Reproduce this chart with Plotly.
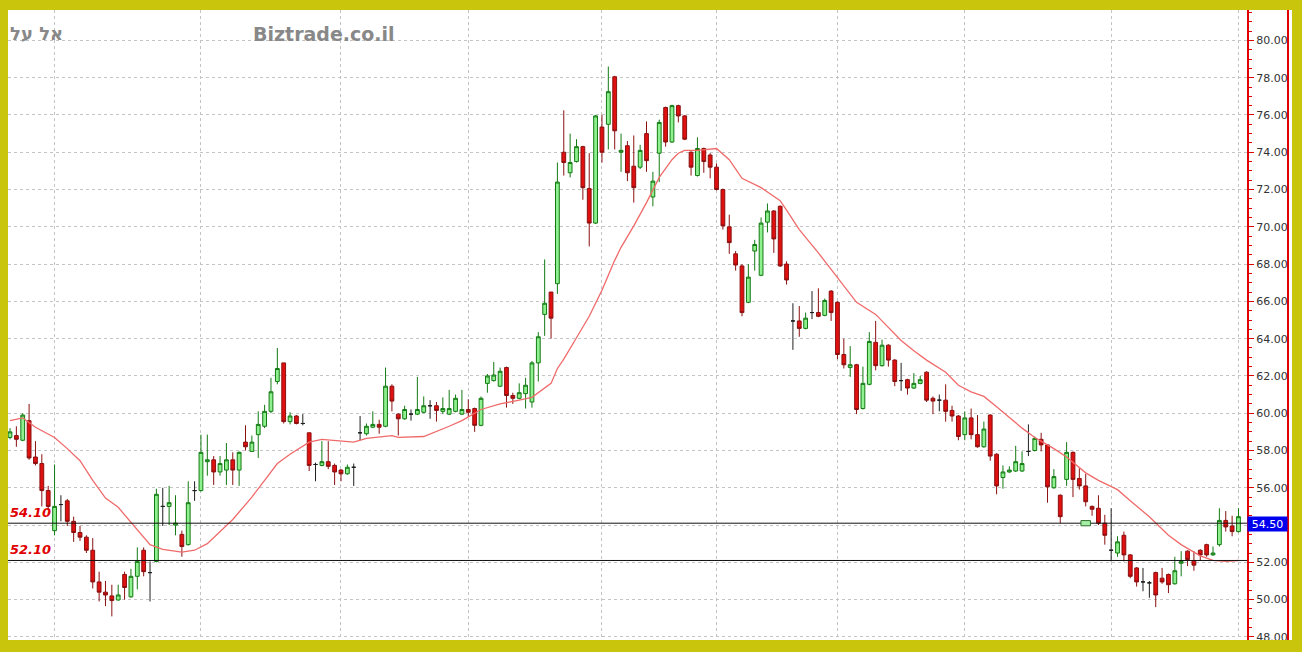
import plotly.graph_objects as go

# ---------------- data ----------------
open_ = [58.7, 58.8, 58.55, 59.6, 57.65, 57.3, 55.85, 53.7, 55.1, 55.3,
         54.2, 53.6, 53.35, 52.65, 50.95, 50.4, 50.2, 49.98, 51.35, 50.15,
         51.25, 52.65, 51.45, 52.05, 55.0, 55.0, 54.0, 53.5, 52.95, 55.85,
         55.85, 57.4, 57.5, 56.85, 56.95, 57.5, 56.95, 58.45, 57.95, 58.85,
         59.3, 60.1, 61.7, 62.7, 59.55, 59.85, 59.45, 58.95, 57.25, 57.2,
         57.4, 57.2, 56.95, 56.75, 57.1, 58.95, 58.9, 59.25, 59.4, 59.3,
         61.45, 59.95, 59.7, 59.95, 59.95, 60.05, 60.4, 60.4, 60.1, 59.95,
         60.1, 59.95, 60.2, 60.25, 59.35, 61.6, 61.75, 61.45, 62.45, 60.95,
         60.8, 61.05, 60.6, 62.7, 65.3, 66.5, 66.95, 74.0, 72.9, 73.5,
         74.3, 72.05, 70.2, 75.35, 75.5, 78.05, 74.0, 74.35, 73.25, 73.2,
         75.0, 71.6, 73.95, 76.4, 74.55, 76.5, 75.95, 74.0, 72.75, 74.2,
         73.85, 73.2, 72.0, 70.0, 68.55, 67.9, 65.95, 68.7, 67.4, 70.25,
         70.85, 71.1, 68.0, 64.95, 64.95, 64.55, 65.4, 65.4, 65.25, 66.55,
         65.95, 63.15, 62.45, 62.6, 60.25, 61.55, 63.8, 62.55, 63.65, 62.85,
         61.75, 61.8, 61.35, 61.6, 62.2, 60.8, 60.7, 60.7, 60.15, 59.85,
         58.85, 59.75, 58.85, 58.2, 59.9, 57.8, 56.55, 56.85, 56.9, 56.9,
         57.95, 58.0, 58.6, 58.3, 56.0, 55.6, 56.45, 57.9, 56.5, 56.1,
         55.0, 54.9, 54.1, 52.65, 52.5, 53.45, 52.4, 51.7, 50.95, 50.9,
         51.45, 51.15, 51.35, 50.85, 51.95, 52.6, 52.1, 52.65, 52.95, 52.4,
         52.95, 54.25, 53.95, 53.65]
high = [59.2, 59.3, 60.0, 60.5, 58.5, 57.8, 56.1, 57.25, 55.6, 55.4,
        54.45, 53.95, 53.45, 53.3, 51.5, 51.0, 50.8, 50.8, 51.5, 51.65,
        52.8, 52.8, 52.05, 55.95, 56.0, 56.1, 55.6, 53.7, 56.35, 56.35,
        58.85, 58.85, 57.7, 57.7, 58.4, 57.9, 57.95, 59.35, 58.8, 60.1,
        60.45, 61.9, 63.5, 62.7, 60.05, 59.9, 59.95, 58.95, 57.35, 58.5,
        58.5, 57.3, 57.0, 57.25, 57.3, 59.85, 59.45, 60.1, 59.65, 62.45,
        61.55, 60.0, 60.4, 60.2, 61.95, 60.9, 60.7, 60.6, 60.85, 61.25,
        61.0, 61.25, 60.75, 60.3, 60.9, 62.1, 62.75, 62.45, 62.5, 61.1,
        61.6, 61.9, 62.8, 64.35, 68.25, 66.5, 73.45, 76.25, 75.0, 74.7,
        74.35, 73.95, 76.0, 76.0, 78.6, 78.1, 75.0, 74.6, 74.9, 74.4,
        75.65, 72.95, 75.75, 76.45, 76.55, 76.55, 76.0, 74.05, 74.8, 74.25,
        73.95, 73.4, 72.05, 70.65, 68.7, 68.0, 68.0, 69.3, 70.5, 71.25,
        70.9, 71.15, 68.15, 65.9, 65.75, 65.4, 66.55, 66.7, 66.15, 66.6,
        66.0, 64.0, 63.6, 62.65, 62.5, 64.35, 64.95, 63.95, 63.7, 62.9,
        62.7, 61.85, 62.15, 62.0, 62.25, 60.9, 61.0, 61.55, 60.4, 59.9,
        60.1, 60.25, 59.9, 59.55, 59.95, 57.85, 57.2, 57.15, 58.25, 57.95,
        59.4, 58.75, 58.95, 58.35, 57.0, 55.65, 58.45, 57.95, 57.05, 56.75,
        55.05, 55.6, 54.55, 54.9, 53.4, 53.65, 52.45, 51.75, 51.7, 51.0,
        51.5, 51.7, 51.4, 52.3, 52.6, 52.65, 52.6, 52.7, 53.0, 52.85,
        54.9, 54.75, 54.5, 54.9]
low = [58.6, 58.2, 58.5, 57.5, 57.2, 55.0, 54.8, 53.45, 54.2, 53.95,
       53.1, 53.15, 52.5, 50.6, 49.9, 49.65, 49.1, 49.95, 50.0, 50.1,
       50.55, 51.25, 49.9, 52.0, 53.95, 54.0, 53.45, 52.3, 52.9, 55.3,
       55.8, 56.65, 56.15, 56.65, 56.15, 56.15, 56.1, 58.0, 57.95, 57.6,
       59.2, 60.0, 61.55, 59.45, 59.4, 59.4, 59.35, 56.9, 56.35, 57.15,
       57.0, 56.15, 56.35, 56.7, 56.1, 58.55, 58.8, 59.2, 58.9, 59.25,
       60.1, 58.8, 59.65, 59.6, 59.9, 60.0, 59.7, 59.55, 59.95, 59.9,
       60.05, 59.9, 59.8, 59.0, 59.3, 61.1, 61.7, 61.4, 60.3, 60.5,
       60.75, 60.25, 60.3, 61.7, 64.15, 64.0, 66.4, 72.75, 72.65, 73.45,
       71.45, 68.95, 70.15, 73.45, 74.15, 74.15, 72.95, 72.45, 71.3, 73.1,
       72.95, 71.1, 72.4, 74.3, 74.5, 75.6, 74.65, 72.75, 72.7, 72.9,
       72.6, 71.95, 69.85, 68.55, 67.65, 65.2, 65.9, 67.65, 67.35, 69.7,
       68.6, 67.85, 66.9, 63.4, 64.1, 64.5, 65.05, 65.15, 65.2, 64.95,
       62.9, 62.4, 61.95, 59.95, 60.2, 61.5, 62.3, 62.5, 62.5, 61.45,
       61.2, 61.0, 61.3, 61.55, 60.6, 59.95, 60.1, 59.55, 59.55, 58.55,
       58.55, 58.6, 58.15, 58.15, 57.45, 55.65, 55.95, 56.8, 56.85, 56.85,
       57.7, 57.95, 57.95, 55.2, 55.95, 54.1, 56.1, 55.5, 55.9, 55.0,
       54.5, 54.0, 52.95, 52.05, 52.3, 52.05, 51.15, 50.7, 50.45, 50.1,
       49.6, 50.85, 50.35, 50.8, 51.25, 51.8, 51.55, 52.1, 52.3, 52.35,
       52.85, 53.65, 53.4, 53.6]
close = [59.0, 58.6, 59.9, 57.6, 57.3, 55.85, 55.0, 55.0, 55.1, 54.2,
         53.6, 53.35, 52.65, 50.95, 50.4, 50.25, 49.95, 50.25, 50.65, 51.25,
         52.05, 51.5, 51.45, 55.65, 55.0, 55.2, 54.1, 52.85, 55.2, 55.85,
         57.9, 57.5, 56.85, 57.3, 57.5, 56.95, 57.9, 58.2, 58.45, 59.4,
         60.1, 61.15, 62.4, 59.55, 59.85, 59.45, 59.45, 57.2, 57.25, 57.4,
         57.15, 56.85, 56.75, 57.1, 57.1, 58.95, 59.3, 59.4, 59.25, 61.45,
         60.65, 59.7, 60.2, 59.95, 60.2, 60.4, 60.4, 60.15, 60.25, 60.25,
         60.8, 60.2, 60.05, 59.35, 60.8, 62.0, 62.05, 62.25, 60.95, 60.8,
         61.1, 61.5, 62.7, 64.1, 65.9, 65.1, 72.4, 73.45, 73.45, 74.3,
         72.1, 70.2, 75.95, 74.0, 77.25, 75.15, 74.1, 72.9, 72.1, 74.1,
         73.55, 72.45, 75.6, 74.55, 76.5, 75.95, 74.7, 73.2, 74.2, 73.5,
         73.2, 72.0, 70.05, 69.15, 67.95, 65.4, 67.3, 69.05, 70.2, 70.85,
         69.35, 67.9, 67.15, 64.95, 64.55, 65.1, 65.4, 65.2, 66.05, 65.4,
         63.15, 62.6, 62.6, 60.2, 61.6, 63.85, 62.55, 63.65, 62.85, 61.7,
         61.75, 61.35, 61.6, 61.8, 60.7, 60.65, 60.7, 60.1, 59.85, 58.75,
         59.75, 58.85, 58.2, 59.15, 57.7, 56.1, 56.85, 56.95, 57.4, 57.3,
         57.95, 58.65, 58.3, 56.05, 56.6, 54.45, 57.9, 56.45, 56.1, 55.25,
         54.85, 54.1, 53.45, 52.65, 53.1, 52.4, 51.25, 50.95, 50.95, 50.9,
         50.25, 50.95, 50.8, 51.55, 52.05, 52.15, 51.85, 52.4, 52.4, 52.5,
         54.25, 53.9, 53.65, 54.45]

# moving average line, read at candle positions
ma_idx = [0, 2, 4, 7, 9, 11, 13, 15, 17, 19, 21, 22, 24, 26, 27, 29, 31, 35, 38, 40,
          42, 44, 47, 49, 52, 54, 56, 60, 61, 65, 69, 71, 74, 77, 80, 82, 85, 86, 87, 88,
          89, 91, 93, 95, 96, 98, 100, 102, 104, 105, 106, 108, 111, 113, 115, 118, 121, 122, 124, 127,
          130, 133, 136, 137, 140, 142, 144, 147, 149, 151, 153, 155, 157, 159, 161, 164, 166, 169, 171, 174,
          176, 179, 182, 184, 186, 187, 189, 191, 193]
ma_val = [59.6, 59.75, 59.25, 58.7, 58.1, 57.45, 56.4, 55.45, 54.95, 54.15, 53.4, 52.95, 52.7, 52.6, 52.55, 52.65, 53.0, 54.3, 55.5, 56.4,
          57.3, 57.8, 58.45, 58.6, 58.5, 58.45, 58.65, 58.8, 58.7, 58.75, 59.3, 59.6, 60.2, 60.5, 60.7, 60.85, 61.6, 62.4, 62.9, 63.5,
          64.05, 65.2, 66.6, 68.2, 68.9, 70.05, 71.3, 72.65, 73.6, 73.95, 74.1, 74.1, 74.2, 73.6, 72.6, 72.1, 71.4, 70.9, 69.85, 68.6,
          67.3, 65.95, 65.3, 64.95, 63.9, 63.35, 62.85, 62.2, 61.5, 61.15, 60.9, 60.35, 59.75, 59.2, 58.7, 58.1, 57.65, 56.8, 56.4, 55.9,
          55.3, 54.45, 53.45, 52.95, 52.55, 52.35, 52.1, 52.05, 52.1]

month_starts = [7, 30, 52, 72, 93, 111, 130, 150, 173, 193]
levels = [54.10, 52.10]
level_labels = ["54.10", "52.10"]
level_handle_idx = 169          # small handle box drawn on the 54.10 line
y_ticks = [48, 50, 52, 54, 56, 58, 60, 62, 64, 66, 68, 70, 72, 74, 76, 78, 80]
last_price = 54.50
stock_name = "אל על"
brand = "Biztrade.co.il"

# ---------------- layout geometry ----------------
W, H = 1302, 652
ML, MR, MT, MB = 8, 55, 10, 10
PW, PH = W - ML - MR, H - MT - MB
YELLOW = "#c9c40c"


def px_x(px):
    return (px - ML) / PW


def px_y(py):
    return 1 - (py - MT) / PH


idx = list(range(len(close)))
is_doji = [o == c for o, c in zip(open_, close)]
n_idx = [i for i in idx if not is_doji[i]]
d_idx = [i for i in idx if is_doji[i]]

fig = go.Figure()
fig.add_trace(go.Scatter(x=ma_idx, y=ma_val, mode="lines",
                         line=dict(color="#f06a6a", width=1.3), hoverinfo="skip"))
fig.add_trace(go.Candlestick(
    x=n_idx,
    open=[open_[i] for i in n_idx], high=[high[i] for i in n_idx],
    low=[low[i] for i in n_idx], close=[close[i] for i in n_idx],
    increasing=dict(line=dict(color="#137a13", width=1), fillcolor="#8ef08e"),
    decreasing=dict(line=dict(color="#8a1010", width=1), fillcolor="#e01010"),
    whiskerwidth=0))
fig.add_trace(go.Candlestick(
    x=d_idx,
    open=[open_[i] for i in d_idx], high=[high[i] for i in d_idx],
    low=[low[i] for i in d_idx], close=[close[i] for i in d_idx],
    increasing=dict(line=dict(color="#202020", width=1), fillcolor="#202020"),
    decreasing=dict(line=dict(color="#202020", width=1), fillcolor="#202020"),
    whiskerwidth=0))

shapes = [
    # white area behind price axis
    dict(type="rect", xref="paper", yref="paper", x0=1, x1=px_x(1292), y0=0, y1=1,
         fillcolor="white", line=dict(width=0), layer="below"),
    # outer red line on the price axis
    dict(type="line", xref="paper", yref="paper", x0=px_x(1288), x1=px_x(1288), y0=0, y1=1,
         line=dict(color="#e00000", width=2)),
    # bottom border covering the cut label
    dict(type="rect", xref="paper", yref="paper", x0=-0.01, x1=1.06, y0=px_y(H), y1=0,
         fillcolor=YELLOW, line=dict(width=0), layer="above"),
]
for lv in levels:
    shapes.append(dict(type="line", xref="paper", yref="y", x0=0, x1=1, y0=lv, y1=lv,
                       line=dict(color="#111111", width=1)))
# handle of the 54.10 line
shapes.append(dict(type="rect", xref="x", yref="y",
                   x0=level_handle_idx - 0.75, x1=level_handle_idx + 0.75,
                   y0=levels[0] - 0.14, y1=levels[0] + 0.14,
                   fillcolor="#a6eea6", line=dict(color="#2f6f2f", width=1)))

annotations = [
    dict(text="<b>" + brand + "</b>", xref="paper", yref="paper", x=px_x(324), y=px_y(34),
         xanchor="center", yanchor="middle", showarrow=False,
         font=dict(family="DejaVu Sans, Verdana", size=19, color="#888888")),
    dict(text="<b>" + stock_name + "</b>", xref="paper", yref="paper", x=px_x(65), y=px_y(34),
         xanchor="right", yanchor="middle", showarrow=False,
         font=dict(family="DejaVu Sans, Arial", size=18, color="#888888")),
    dict(text=f"{last_price:.2f}", xref="paper", yref="y", x=1, y=last_price,
         xanchor="left", yanchor="top", showarrow=False, bgcolor="#0000ee",
         width=37, height=12, borderpad=1,
         font=dict(family="DejaVu Sans", size=11, color="white")),
]
for lv, lab in zip(levels, level_labels):
    annotations.append(dict(text="<b><i>" + lab + "</i></b>", xref="paper", yref="y", x=0, y=lv,
                            xanchor="left", yanchor="bottom", yshift=1, showarrow=False,
                            font=dict(family="DejaVu Sans", size=13, color="#e00000")))

# the tick label hidden under the last-price box is left blank
tick_text = ["" if abs(v - last_price) < 1 else f"{v:.2f}" for v in y_ticks]

fig.update_layout(
    width=W, height=H,
    margin=dict(l=ML, r=MR, t=MT, b=MB),
    paper_bgcolor=YELLOW, plot_bgcolor="white",
    showlegend=False, boxgap=0.15,
    shapes=shapes, annotations=annotations,
    xaxis=dict(range=[-0.314, 194.34], tickvals=month_starts, showticklabels=False,
               showgrid=True, gridcolor="#c4c4c4", griddash="dot", gridwidth=1,
               zeroline=False, showline=False, ticks="", rangeslider=dict(visible=False)),
    yaxis=dict(range=[47.834, 81.631], side="right", tickvals=y_ticks,
               ticktext=tick_text,
               showgrid=True, gridcolor="#c4c4c4", griddash="dot", gridwidth=1,
               zeroline=False, showline=True, linecolor="#e00000", linewidth=2,
               ticks="outside", ticklen=5, tickcolor="#e00000", tickwidth=1,
               minor=dict(dtick=0.5, ticks="outside", ticklen=3, tickcolor="#e00000", showgrid=False),
               tickfont=dict(family="DejaVu Sans", size=11, color="#333333")),
)

fig.write_html("out.html", config={"displayModeBar": False},
               post_script="document.body.style.margin='0';document.body.style.overflow='hidden';")
